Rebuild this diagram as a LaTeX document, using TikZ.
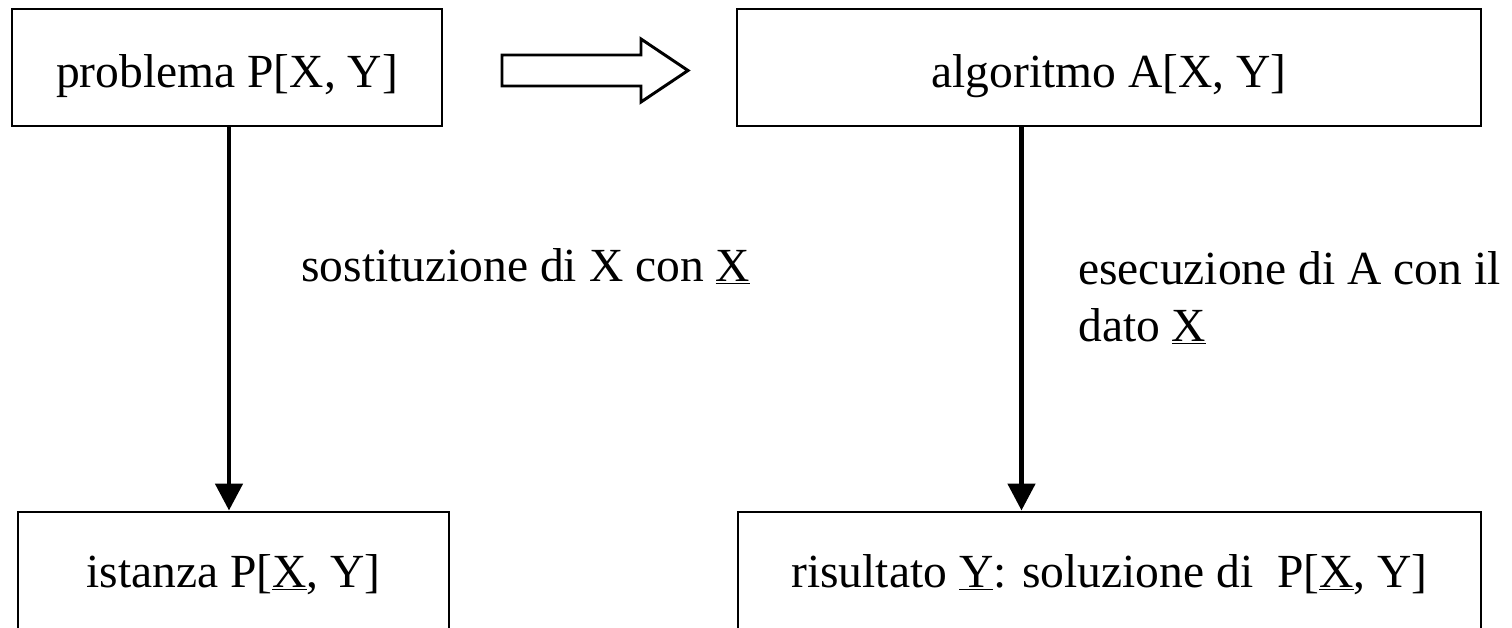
\documentclass[tikz,border=0pt]{standalone}
\usepackage{fontspec}
\setmainfont{Liberation Serif}
\usetikzlibrary{arrows.meta}
\begin{document}
\begin{tikzpicture}[font=\fontsize{33.8}{40.4}\selectfont, line join=miter,
    >={Triangle[length=0.675cm,width=0.675cm]},
    box/.style={draw, line width=2.1pt, minimum height=2.925cm, inner sep=0pt,
        text height=1.2cm, text depth=0.2cm},
    lowbox/.style={box, minimum height=3cm, text height=1.0cm, text depth=0.25cm},
    flow/.style={->, line width=3.5pt},
    hollow/.style={draw, line width=2.1pt, fill=white},
    lbl/.style={anchor=base west, inner sep=0pt, align=left}]
    \useasboundingbox (0,0) rectangle (37.8,-15.7);
    % top row
    \node[box, minimum width=10.75cm] (prob) at (5.675,-1.6875) {problema P[X, Y]};
    \node[box, minimum width=18.6cm] (alg) at (27.725,-1.6875) {algoritmo A[X, Y]};
    % bottom row
    \node[lowbox, minimum width=10.775cm] (ist) at (5.8375,-14.3) {istanza P[\underline{X}, Y]};
    \node[lowbox, minimum width=18.575cm] (ris) at (27.7375,-14.3) {risultato \underline{Y}: soluzione di~ P[\underline{X}, Y]};
    % hollow arrow between the top boxes
    \draw[hollow] (12.55,-1.375) -- (16.025,-1.375) -- (16.025,-0.975) -- (17.2,-1.7625)
        -- (16.025,-2.55) -- (16.025,-2.15) -- (12.55,-2.15) -- cycle;
    % vertical arrows
    \coordinate (s1) at ([xshift=0.05cm]prob.south);
    \coordinate (s2) at ([xshift=-2.1875cm]alg.south);
    \draw[flow] (s1) -- (s1 |- ist.north);
    \draw[flow] (s2) -- (s2 |- ris.north);
    % labels
    \node[lbl] (subst) at (7.525,-7.025) {sostituzione di X con \underline{X}};
    \node[lbl] (exec) at (26.95,-8.525) {esecuzione di A con il\\dato \underline{X}};
\end{tikzpicture}
\end{document}
